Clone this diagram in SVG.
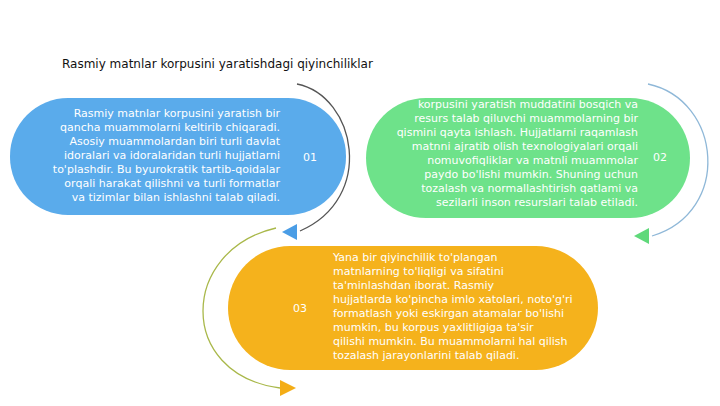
<svg xmlns="http://www.w3.org/2000/svg" width="720" height="406" viewBox="0 0 720 406">
<defs>
<style>
.t{font-family:"DejaVu Sans",sans-serif;font-size:11px;fill:#ffffff}
.r{text-anchor:end}
.n{font-family:"DejaVu Sans",sans-serif;font-size:11px;fill:#ffffff;text-anchor:middle}
.title{font-family:"DejaVu Sans",sans-serif;font-size:12px;fill:#111111}
.arc{fill:none;stroke-width:1.3}
</style>
</defs>
<rect width="720" height="406" fill="#ffffff"/>
<text class="title" x="62" y="68">Rasmiy matnlar korpusini yaratishdagi qiyinchiliklar</text>
<g id="connectors">
<path class="arc" stroke="#555555" d="M297 84 C356 96 376 198 300 231"/>
<polygon points="282,232 297,224 297,240" fill="#4a9de6"/>
<path class="arc" stroke="#8fb8d8" d="M648 84 C722 100 732 212 652 236"/>
<polygon points="634,236 649,228 649,244" fill="#5fd97a"/>
<path class="arc" stroke="#a9b84a" d="M276 228 C180 250 176 374 280 388"/>
<polygon points="296,388 280,380 280,396" fill="#f4ad16"/>
</g>
<g id="node1">
<rect x="10" y="98" width="336" height="117" rx="58" fill="#5aabeb"/>
<text class="t r" x="280" y="117">Rasmiy matnlar korpusini yaratish bir</text>
<text class="t r" x="280" y="131">qancha muammolarni keltirib chiqaradi.</text>
<text class="t r" x="280" y="145">Asosiy muammolardan biri turli davlat</text>
<text class="t r" x="280" y="159">idoralari va idoralaridan turli hujjatlarni</text>
<text class="t r" x="280" y="173">to'plashdir. Bu byurokratik tartib-qoidalar</text>
<text class="t r" x="280" y="187">orqali harakat qilishni va turli formatlar</text>
<text class="t r" x="280" y="201">va tizimlar bilan ishlashni talab qiladi.</text>
<text class="n" x="310" y="161">01</text>
</g>
<g id="node2">
<rect x="366" y="98" width="324" height="120" rx="60" fill="#6ee28a"/>
<text class="t r" x="638" y="108">korpusini yaratish muddatini bosqich va</text>
<text class="t r" x="638" y="122">resurs talab qiluvchi muammolarning bir</text>
<text class="t r" x="638" y="136">qismini qayta ishlash. Hujjatlarni raqamlash</text>
<text class="t r" x="638" y="150">matnni ajratib olish texnologiyalari orqali</text>
<text class="t r" x="638" y="164">nomuvofiqliklar va matnli muammolar</text>
<text class="t r" x="638" y="178">paydo bo'lishi mumkin. Shuning uchun</text>
<text class="t r" x="638" y="192">tozalash va normallashtirish qatlami va</text>
<text class="t r" x="638" y="206">sezilarli inson resurslari talab etiladi.</text>
<text class="n" x="660" y="161">02</text>
</g>
<g id="node3">
<rect x="228" y="246" width="370" height="124" rx="62" fill="#f5b21c"/>
<text class="t" x="333" y="261">Yana bir qiyinchilik to'plangan</text>
<text class="t" x="333" y="275">matnlarning to'liqligi va sifatini</text>
<text class="t" x="333" y="289">ta'minlashdan iborat. Rasmiy</text>
<text class="t" x="333" y="303">hujjatlarda ko'pincha imlo xatolari, noto'g'ri</text>
<text class="t" x="333" y="317">formatlash yoki eskirgan atamalar bo'lishi</text>
<text class="t" x="333" y="331">mumkin, bu korpus yaxlitligiga ta'sir</text>
<text class="t" x="333" y="345">qilishi mumkin. Bu muammolarni hal qilish</text>
<text class="t" x="333" y="359">tozalash jarayonlarini talab qiladi.</text>
<text class="n" x="300" y="312">03</text>
</g>
</svg>
